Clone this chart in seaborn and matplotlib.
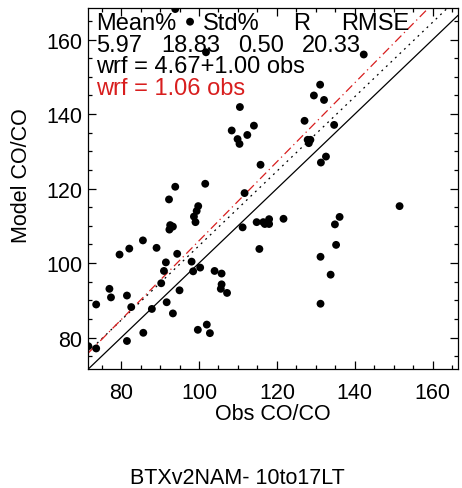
import matplotlib
matplotlib.use("Agg")
import matplotlib.pyplot as plt
import seaborn as sns
import pandas as pd
from matplotlib.ticker import MultipleLocator

obs = [71.6, 73.6, 73.6, 77.0, 77.4, 79.6, 81.5, 81.5, 82.1, 82.6,
       85.6, 85.7, 87.9, 89.1, 90.3, 91.0, 91.5, 91.7, 93.3, 94.4,
       95.0, 98.1, 98.5, 99.7, 100.3, 102.0, 102.8, 104.0, 105.8, 105.8,
       105.6, 107.2, 115.5, 131.2, 133.8, 131.2, 135.2, 92.3, 93.9, 92.6,
       93.3, 92.4, 99.8, 99.4, 98.7, 99.1, 101.6, 108.4, 110.5, 109.9,
       110.4, 112.4, 114.1, 115.8, 111.7, 111.2, 114.8, 116.5, 116.9, 118.0,
       118.0, 121.7, 127.1, 127.9, 128.6, 128.2, 131.3, 132.6, 134.7, 134.9,
       136.1, 151.5, 142.3, 131.1, 129.5, 132.1, 97.7, 101.8, 93.9]
model = [77.7, 77.1, 88.9, 93.1, 90.8, 102.3, 91.3, 79.1, 103.9, 88.2,
         106.1, 81.3, 87.7, 104.1, 94.6, 97.9, 100.2, 89.5, 86.5, 102.5,
         92.7, 100.4, 97.8, 82.1, 98.8, 83.5, 81.2, 97.9, 97.2, 94.3,
         93.1, 92.0, 103.8, 101.7, 96.9, 89.1, 104.9, 117.1, 120.5, 110.2,
         109.8, 109.0, 115.3, 114.0, 112.5, 111.0, 121.3, 135.6, 141.9, 133.3,
         132.0, 134.4, 136.9, 126.4, 118.8, 109.6, 111.0, 111.0, 110.5, 111.8,
         110.5, 111.9, 138.2, 133.1, 133.1, 132.2, 127.0, 128.6, 137.1, 110.4,
         112.4, 115.3, 156.0, 147.9, 145.0, 143.8, 164.8, 156.6, 168.2]

# stats / fits shown in the panel
stat_names = ["Mean%", "Std%", "R", "RMSE"]
stat_values = ["5.97", "18.83", "0.50", "20.33"]
fit_intercept, fit_slope = 4.67, 1.00
origin_slope = 1.06

axis_min, axis_max_x, axis_max_y = 71.5, 166.5, 168.4

sns.set_style("ticks")
plt.rcParams['font.family'] = ['Liberation Sans', 'DejaVu Sans']
plt.rcParams['text.color'] = 'black'
plt.rcParams['axes.labelcolor'] = 'black'
plt.rcParams['xtick.color'] = 'black'
plt.rcParams['ytick.color'] = 'black'
plt.rcParams['axes.edgecolor'] = 'black'

df = pd.DataFrame({'obs': obs, 'model': model})

fig = plt.figure(figsize=(4.62, 4.89), dpi=100)
ax = fig.add_axes([88 / 462, 1 - 370.3 / 489, 370 / 462, 361 / 489])

sns.scatterplot(data=df, x='obs', y='model', color='black', s=32,
                edgecolor='none', ax=ax, zorder=3)

red = '#d81e1e'
ax.axline((0, 0), slope=1.0, color='black', lw=0.9)
ax.axline((0, fit_intercept), slope=fit_slope, color='black', lw=0.9,
          linestyle=(0, (1.5, 3.5)))
ax.axline((0, 0), slope=origin_slope, color=red, lw=0.9,
          linestyle=(0, (7, 3, 1, 3)))

ax.set_xlim(axis_min, axis_max_x)
ax.set_ylim(axis_min, axis_max_y)
for axis in (ax.xaxis, ax.yaxis):
    axis.set_major_locator(MultipleLocator(20))
    axis.set_minor_locator(MultipleLocator(5))
ax.tick_params(which='both', direction='in', top=True, right=True,
               labelsize=15.5, width=0.9)
ax.tick_params(axis='x', which='major', length=6, pad=9)
ax.tick_params(axis='y', which='major', length=6, pad=4)
ax.tick_params(which='minor', length=3)
for sp in ax.spines.values():
    sp.set_linewidth(0.9)
    sp.set_visible(True)

ax.set_xlabel('Obs CO/CO', fontsize=15.5, labelpad=0)
ax.set_ylabel('Model CO/CO', fontsize=15.5)
ax.yaxis.set_label_coords(-0.152, 0.54)

# stats block inside the axes
name_x = [95.7, 203, 292.7, 341]
val_x = [95.7, 161.7, 238, 302]
fs = 17
for nm, px in zip(stat_names, name_x):
    ax.text((px - 88) / 370, 0.9427, nm, transform=ax.transAxes,
            fontsize=fs, va='baseline', ha='left')
for vl, px in zip(stat_values, val_x):
    ax.text((px - 88) / 370, 0.8817, vl, transform=ax.transAxes,
            fontsize=fs, va='baseline', ha='left')
ax.text((95.7 - 88) / 370, 0.8235,
        f"wrf = {fit_intercept:.2f}+{fit_slope:.2f} obs",
        transform=ax.transAxes, fontsize=fs, va='baseline', ha='left')
ax.text((95.7 - 88) / 370, 0.7626, f"wrf = {origin_slope:.2f} obs",
        transform=ax.transAxes, fontsize=fs, va='baseline', ha='left',
        color=red)

fig.text(237 / 462, 1 - 484 / 489, 'BTXv2NAM- 10to17LT', fontsize=15.5,
         ha='center', va='baseline')

fig.savefig('out.png', dpi=100)
